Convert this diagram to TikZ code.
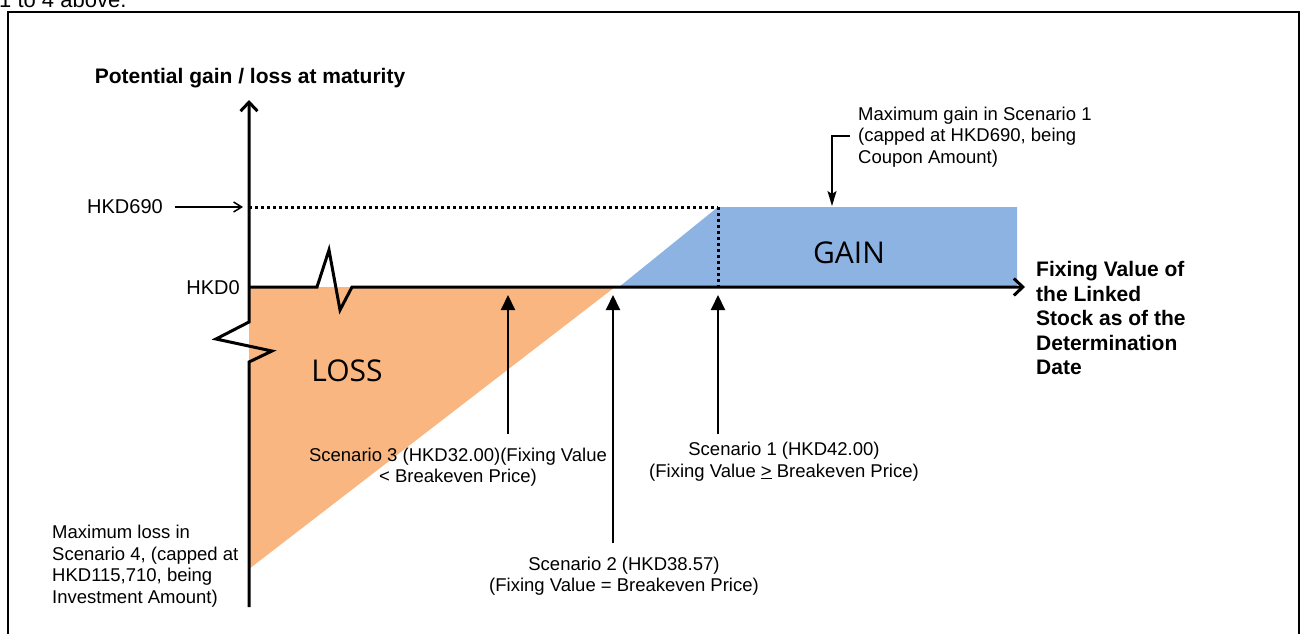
\documentclass[tikz,border=0pt]{standalone}
\usepackage{fontspec}
\setmainfont{Liberation Sans}
\newfontfamily\regionfont{Open Sans}
\usetikzlibrary{arrows.meta}
\definecolor{lossfill}{RGB}{249,182,128}
\definecolor{gainfill}{RGB}{141,179,226}
\begin{document}
\begin{tikzpicture}[x=1pt,y=-1pt,
  txt/.style={inner sep=0pt, font=\fontsize{18.5}{21.5}\selectfont},
  boldtxt/.style={inner sep=0pt, font=\bfseries\fontsize{21}{24.5}\selectfont},
  region/.style={inner sep=0pt, font=\regionfont\fontsize{30}{30}\selectfont},
  axis/.style={line width=3pt, line join=miter, -{Straight Barb[length=9pt,width=17pt]}},
  dotline/.style={line width=3pt, dash pattern=on 3pt off 3pt},
  uparrow/.style={line width=2pt, -{Triangle[length=15pt,width=14pt]}},
  thinarrow/.style={line width=1.5pt, -{Straight Barb[length=8pt,width=10pt]}},
  gainarrow/.style={line width=1.5pt, -{Stealth[length=15pt,width=9pt,inset=3pt]}},
]
\useasboundingbox (0,0) rectangle (1301,634);
\clip (0,0) rectangle (1301,634);

% key points
\coordinate (O) at (249,287);
\coordinate (ytop) at (249,100);
\coordinate (ybot) at (249,607);
\coordinate (xend) at (1025,287);
\coordinate (be) at (615,287);
\coordinate (begain) at (619,287);
\coordinate (cap) at (718,207);
\coordinate (capfoot) at (718,287);
\coordinate (lossbot) at (249,569);
\coordinate (gainNE) at (1017,207);
\coordinate (gainSE) at (1017,287);
\coordinate (y690) at (249,207);

% frame and preceding text
\node[anchor=base west, inner sep=0pt, font=\fontsize{22}{24}\selectfont] (prev) at (-1,7.5) {1 to 4 above.};
\draw[line width=2pt] (8,640) -- (8,12) -- (1299,12) -- (1299,640);

% regions
\fill[lossfill] (O) -- (be) -- (lossbot) -- cycle;
\fill[gainfill] (begain) -- (cap) -- (gainNE) -- (gainSE) -- cycle;

% dotted guides
\draw[dotline] (y690) -- (cap);
\draw[dotline] (cap) -- (capfoot);

% axes with breaks
\draw[axis] (ybot) -- (249,362) -- (272,351) -- (216,339) -- (249,322) -- (ytop);
\draw[axis] (O) -- (317,287) -- (329,250) -- (340,310) -- (352,287) -- (xend);

% labels on axes
\node[boldtxt] (ylabel) at (250,78) {Potential gain / loss at maturity};
\node[boldtxt, anchor=west, align=left] (xlabel) at (1036,318)
  {Fixing Value of\\the Linked\\Stock as of the\\Determination\\Date};
\node[inner sep=0pt, anchor=east, font=\fontsize{20}{24}\selectfont] (h690) at (163,207) {HKD690};
\node[inner sep=0pt, anchor=east, font=\fontsize{20}{24}\selectfont] (h0) at (240,288) {HKD0};
\draw[thinarrow] ([xshift=12pt]h690.east) -- ([xshift=-6pt]y690);

% region names
\node[region] (loss) at (347,371) {LOSS};
\node[region] (gain) at (849,253) {GAIN};

% scenario arrows
\coordinate (s3top) at (508,295);
\coordinate (s3bot) at (508,434);
\coordinate (s2top) at (613,295);
\coordinate (s2bot) at (613,543);
\coordinate (s1top) at (718,295);
\coordinate (s1bot) at (718,434);
\draw[uparrow] (s3bot) -- (s3top);
\draw[uparrow] (s2bot) -- (s2top);
\draw[uparrow] (s1bot) -- (s1top);

\node[txt, align=center] (sc3) at (458,467) {Scenario 3 (HKD32.00)(Fixing Value\\< Breakeven Price)};
\node[txt, align=center] (sc1) at (784,461.5) {Scenario 1 (HKD42.00)\\(Fixing Value \underline{>} Breakeven Price)};
\node[txt, align=center] (sc2) at (624,576) {Scenario 2 (HKD38.57)\\(Fixing Value = Breakeven Price)};

% maximum gain / loss notes
\node[txt, anchor=west, align=left] (maxgain) at (858,137) {Maximum gain in Scenario 1\\(capped at HKD690, being\\Coupon Amount)};
\coordinate (mg1) at (850,136);
\coordinate (mg2) at (832,136);
\coordinate (mg3) at (832,206);
\draw[gainarrow] (mg1) -- (mg2) -- (mg3);

\node[txt, anchor=west, align=left] (maxloss) at (52,566) {Maximum loss in\\Scenario 4, (capped at\\HKD115,710, being\\Investment Amount)};
\end{tikzpicture}
\end{document}
